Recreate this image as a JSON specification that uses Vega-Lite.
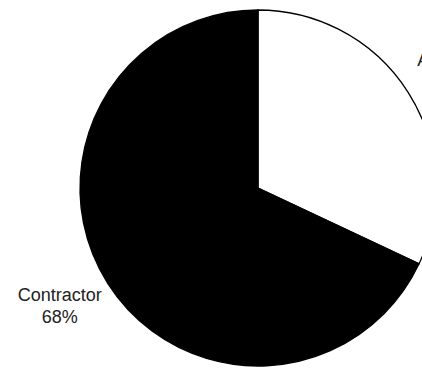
{
  "$schema": "https://vega.github.io/schema/vega-lite/v6.json",
  "width": 516,
  "height": 376,
  "autosize": {"type": "none"},
  "padding": 0,
  "background": "white",
  "view": {"stroke": null},
  "data": {"values": [
    {"category": "Architect", "share": 32, "order": 1},
    {"category": "Contractor", "share": 68, "order": 2}
  ]},
  "transform": [
    {"stack": "share", "groupby": [], "sort": [{"field": "order"}], "as": ["s0", "s1"]},
    {"calculate": "(datum.s0 + datum.s1) / 2", "as": "mid"},
    {"calculate": "[datum.category, datum.share + '%']", "as": "label"}
  ],
  "layer": [
    {
      "mark": {"type": "arc", "outerRadius": 178, "stroke": "#000000", "strokeWidth": 1.3},
      "encoding": {
        "theta": {"field": "s0", "type": "quantitative", "scale": {"domain": [0, 100]}},
        "theta2": {"field": "s1"},
        "color": {"field": "category", "type": "nominal", "scale": {"domain": ["Architect", "Contractor"], "range": ["#ffffff", "#000000"]}, "legend": null}
      }
    },
    {
      "transform": [{"filter": "datum.category == 'Architect'"}],
      "mark": {"type": "text", "radius": 230, "dy": -4, "font": "Liberation Sans", "fontSize": 18, "lineHeight": 22, "baseline": "middle", "align": "center", "color": "#222222"},
      "encoding": {
        "theta": {"field": "mid", "type": "quantitative", "scale": {"domain": [0, 100]}},
        "text": {"field": "label", "type": "nominal"}
      }
    },
    {
      "transform": [{"filter": "datum.category == 'Contractor'"}],
      "mark": {"type": "text", "radius": 230, "dx": -4, "dy": -15, "font": "Liberation Sans", "fontSize": 18, "lineHeight": 22, "baseline": "middle", "align": "center", "color": "#222222"},
      "encoding": {
        "theta": {"field": "mid", "type": "quantitative", "scale": {"domain": [0, 100]}},
        "text": {"field": "label", "type": "nominal"}
      }
    }
  ]
}
